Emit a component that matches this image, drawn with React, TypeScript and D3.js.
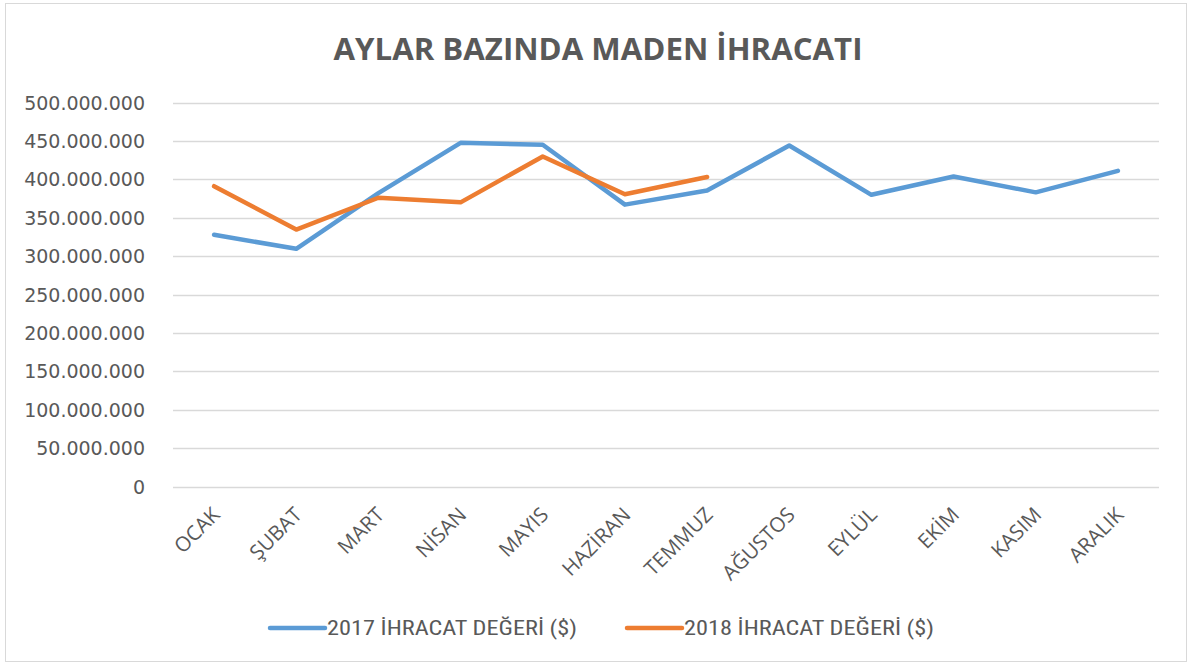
import React from "react";
import * as d3 from "d3";

const months = ["OCAK", "ŞUBAT", "MART", "NİSAN", "MAYIS", "HAZİRAN", "TEMMUZ", "AĞUSTOS", "EYLÜL", "EKİM", "KASIM", "ARALIK"];
const values2017 = [327.7, 309.5, 382, 447.5, 445, 367, 385.5, 444, 379.8, 403.6, 383, 411];
const values2018 = [391, 334.6, 376, 370, 429.7, 380.6, 403];
const yTicks = [0, 50, 100, 150, 200, 250, 300, 350, 400, 450, 500];
const seriesNames = ["2017 İHRACAT DEĞERİ ($)", "2018 İHRACAT DEĞERİ ($)"];
const colors = ["#5B9BD5", "#ED7D31"];
const title = "AYLAR BAZINDA MADEN İHRACATI";

const W = 1189, H = 665;
const plot = { left: 173, right: 1159, top: 102.5, bottom: 486.5 };

function fmt(v: number) {
  if (v === 0) return "0";
  const n = Math.round(v * 1e6);
  return n.toString().replace(/\B(?=(\d{3})+(?!\d))/g, ".");
}

export default function App() {
  const x = d3.scaleBand<string>().domain(months).range([plot.left, plot.right]);
  const y = d3.scaleLinear().domain([0, 500]).range([plot.bottom, plot.top]);
  const cx = (m: string) => (x(m) as number) + x.bandwidth() / 2;
  const line = d3.line<number>().x((_, i) => cx(months[i])).y((d) => y(d));
  const series = [values2017, values2018];
  const font = "'DejaVu Sans', sans-serif";
  return (
    <svg width={W} height={H} style={{ position: "absolute", left: 0, top: 0, background: "#fff" }}>
      <rect x={5.5} y={3.5} width={1181} height={658} fill="#fff" stroke="#d9d9d9" strokeWidth={1} />
      <text x={598} y={60} textAnchor="middle" fontFamily="'Open Sans', sans-serif" fontWeight="bold" fontSize={30} fill="#595959" textLength={529} lengthAdjust="spacingAndGlyphs">{title}</text>
      {yTicks.map((t) => (
        <g key={t}>
          <line x1={plot.left} x2={plot.right} y1={Math.round(y(t)) + 0.5} y2={Math.round(y(t)) + 0.5} stroke="#d9d9d9" strokeWidth={1.5} />
          <text x={145} y={y(t) + 7} textAnchor="end" fontFamily={font} fontSize={19} fill="#595959">{fmt(t)}</text>
        </g>
      ))}
      {months.map((m) => (
        <text key={m} transform={`translate(${cx(m) + 7},${516}) rotate(-45)`} textAnchor="end" fontFamily="'Open Sans', sans-serif" fontSize={20.5} fill="#595959">{m}</text>
      ))}
      {series.map((s, i) => (
        <path key={i} d={line(s) as string} fill="none" stroke={colors[i]} strokeWidth={4.5} strokeLinecap="round" strokeLinejoin="round" />
      ))}
      {seriesNames.map((n, i) => {
        const lx = [270, 627][i];
        return (
          <g key={n}>
            <line x1={lx} x2={lx + 55} y1={628} y2={628} stroke={colors[i]} strokeWidth={4.5} strokeLinecap="round" />
            <text x={lx + 57} y={635} fontFamily="'Liberation Sans Narrow', 'Roboto Condensed', sans-serif" fontSize={20} fill="#595959" textLength={250} lengthAdjust="spacingAndGlyphs">{n}</text>
          </g>
        );
      })}
    </svg>
  );
}
